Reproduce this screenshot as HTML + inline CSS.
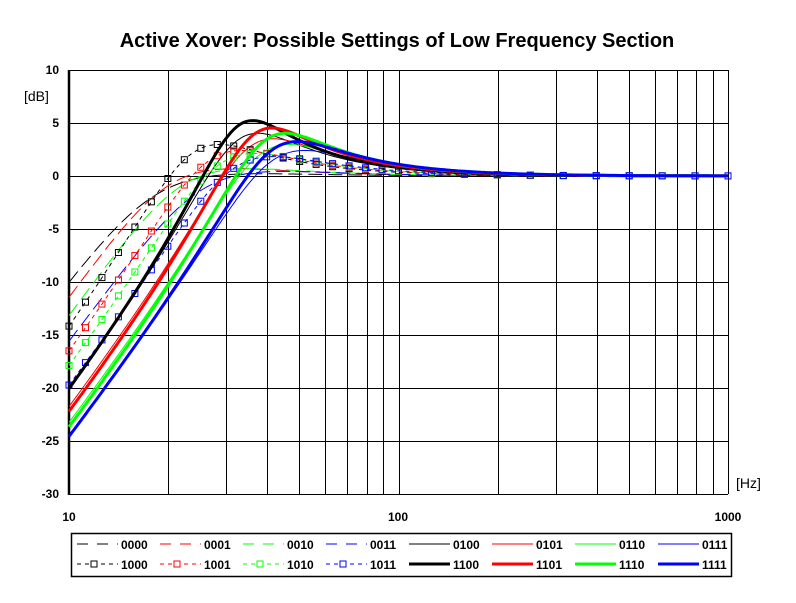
<!DOCTYPE html>
<html><head><meta charset="utf-8"><style>
html,body{margin:0;padding:0;background:#fff;}
svg{display:block;font-family:"Liberation Sans",Arial,sans-serif;}
</style></head><body>
<svg id="s" width="796" height="603" viewBox="0 0 796 603" xmlns="http://www.w3.org/2000/svg">
<rect width="796" height="603" fill="#fff"/>
<text x="397" y="47" text-anchor="middle" font-size="20" font-weight="bold">Active Xover: Possible Settings of Low Frequency Section</text>
<g id="grid" stroke="#000" stroke-width="1"></g>
<g id="curves" fill="none"></g>
<g font-size="12" text-anchor="end" font-weight="bold">
<text x="59" y="74">10</text><text x="59" y="127">5</text><text x="59" y="180">0</text>
<text x="59" y="233">-5</text><text x="59" y="286">-10</text><text x="59" y="339">-15</text>
<text x="59" y="392">-20</text><text x="59" y="445">-25</text><text x="59" y="498">-30</text>
</g>
<text x="24" y="101" font-size="14">[dB]</text>
<text x="736" y="488" font-size="14">[Hz]</text>
<g font-size="12" text-anchor="middle" font-weight="bold">
<text x="69" y="521">10</text><text x="398" y="521">100</text><text x="728" y="521">1000</text>
</g>
<rect x="71.5" y="533.5" width="660" height="43" fill="none" stroke="#000" stroke-width="1.5"/>
<g id="leg"></g>
</svg>
<script>
var NS="http://www.w3.org/2000/svg";
function el(p,t,a){var e=document.createElementNS(NS,t);for(var k in a)e.setAttribute(k,a[k]);p.appendChild(e);return e;}
function X(f){return 69+329.5*Math.log10(f/10);}
function Y(d){return 176-10.6*d;}
var g=document.getElementById('grid');
var fs=[];for(var i=1;i<=10;i++)fs.push(10*i);for(var i=2;i<=10;i++)fs.push(100*i);
fs.forEach(function(f){var x=Math.round(X(f))+0.5;el(g,'line',{x1:x,y1:70,x2:x,y2:494});});
for(var d=10;d>=-30;d-=5){var y=Math.round(Y(d))+0.5;el(g,'line',{x1:69,y1:y,x2:728,y2:y});}
el(g,'line',{x1:69,y1:70,x2:69,y2:495,'stroke-width':2.5});
function H(f,f0,Q){var x=f/f0;var m=x*x/Math.sqrt(Math.pow(1-x*x,2)+Math.pow(x/Q,2));return 20*Math.log10(m);}
var C={k:'#000',r:'#f00',g:'#0f0',b:'#00f'};
var series=[
['0000','k','dash',18,0.8],['0001','r','dash',20,0.9],['0010','g','dash',22,0.9],['0011','b','dash',25,0.85],
['0100','k','thin',33,1.5],['0101','r','thin',36,1.4],['0110','g','thin',39,1.3],['0111','b','thin',42,1.2],
['1000','k','dot',24,1.3],['1001','r','dot',27,1.2],['1010','g','dot',29,1.15],['1011','b','dot',32,1.1],
['1100','k','thick',33,1.75],['1101','r','thick',37,1.6],['1110','g','thick',40,1.5],['1111','b','thick',42,1.35]];
var cv=document.getElementById('curves');
function sty(t,c){var a={stroke:C[c]};
 if(t=='dash'){a['stroke-width']=1;a['stroke-dasharray']='14 6';}
 else if(t=='thin'){a['stroke-width']=1;}
 else if(t=='dot'){a['stroke-width']=1;a['stroke-dasharray']='4 4';}
 else {a['stroke-width']=3;}
 return a;}
series.forEach(function(s){
 var pts=[];for(var i=0;i<=200;i++){var f=10*Math.pow(100,i/200);pts.push(X(f).toFixed(1)+','+Y(H(f,s[3],s[4])).toFixed(1));}
 var a=sty(s[2],s[1]);a.points=pts.join(' ');el(cv,'polyline',a);
 if(s[2]=='dot'){for(var k=0;k<=20;k++){var f=10*Math.pow(10,k*0.05);
   el(cv,'rect',{x:X(f)-3,y:Y(H(f,s[3],s[4]))-3,width:6,height:6,fill:'none',stroke:C[s[1]],'stroke-width':1});}
  for(var k=11;k<=20;k++){var f=10*Math.pow(10,k*0.1);
   el(cv,'rect',{x:X(f)-3,y:Y(H(f,s[3],s[4]))-3,width:6,height:6,fill:'none',stroke:C[s[1]],'stroke-width':1});}}
});
var lg=document.getElementById('leg');
var order=[['0000','k','dash'],['0001','r','dash'],['0010','g','dash'],['0011','b','dash'],['0100','k','thin'],['0101','r','thin'],['0110','g','thin'],['0111','b','thin'],
['1000','k','dot'],['1001','r','dot'],['1010','g','dot'],['1011','b','dot'],['1100','k','thick'],['1101','r','thick'],['1110','g','thick'],['1111','b','thick']];
order.forEach(function(o,i){var col=i%8,row=Math.floor(i/8);var x0=77+col*83,y=row?564:544;
 var a=sty(o[2],o[1]);a.x1=x0;a.x2=x0+41;a.y1=y;a.y2=y;
 if(o[2]=='dash')a['stroke-dasharray']='11 9';
 el(lg,'line',a);
 if(o[2]=='dot')el(lg,'rect',{x:x0+14,y:y-3,width:6,height:6,fill:'#fff',stroke:C[o[1]]});
 var t=el(lg,'text',{x:x0+44,y:y+5,'font-size':12,'font-weight':'bold'});t.textContent=o[0];});
</script>
</body></html>
